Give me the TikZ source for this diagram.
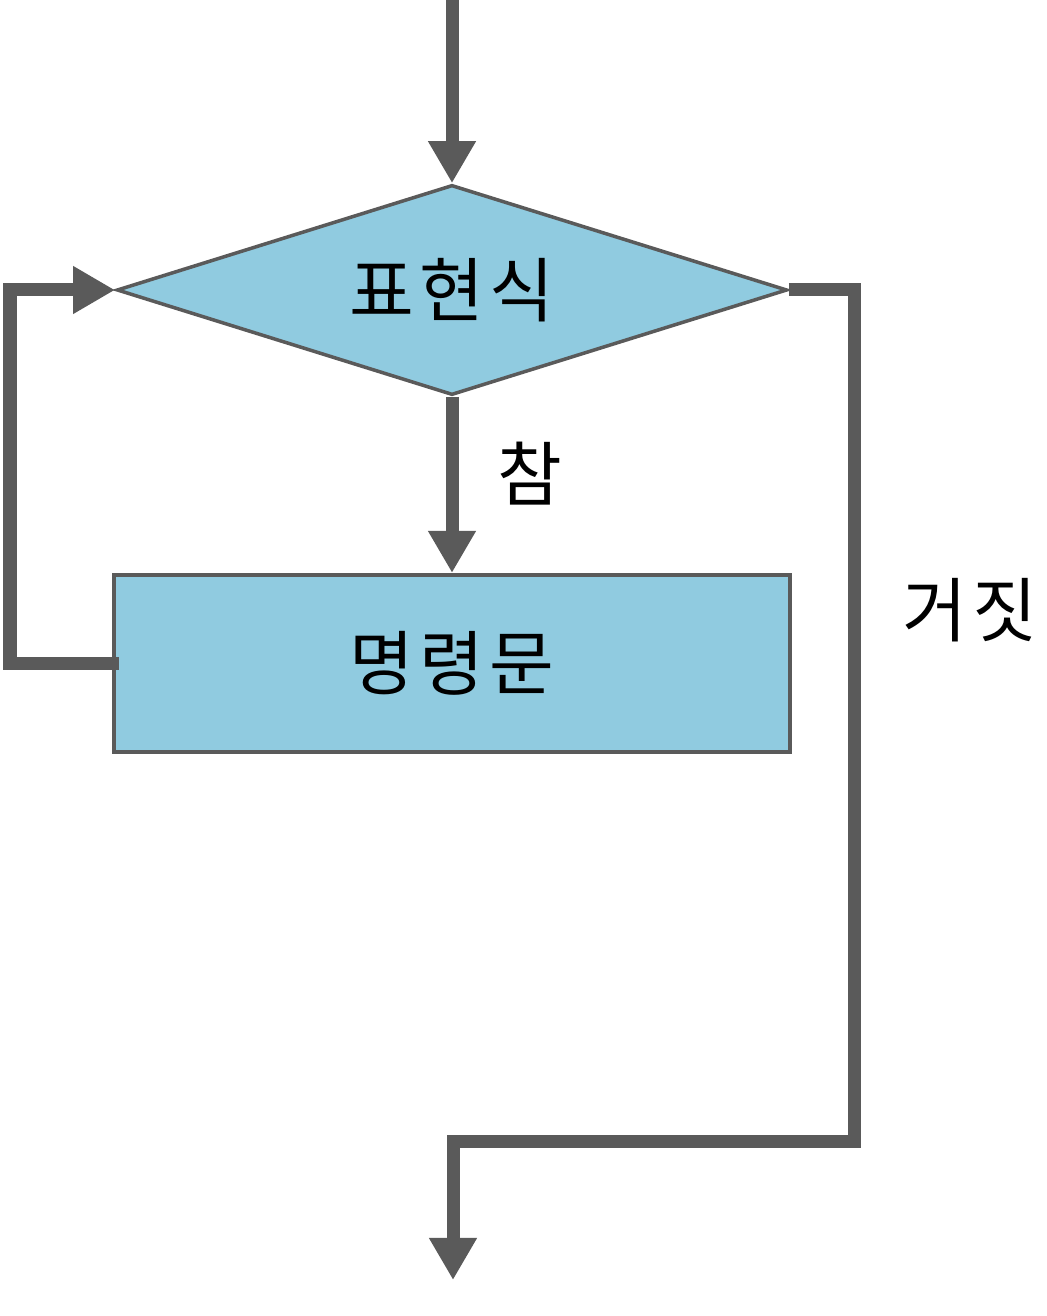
\documentclass[tikz,border=0pt]{standalone}
\usepackage{fontspec}
\newfontfamily\krfont[LetterSpace=8]{Noto Sans CJK KR}
\usetikzlibrary{arrows.meta, positioning, shapes.geometric}
\definecolor{boxblue}{HTML}{90CBE0}
\definecolor{linegray}{HTML}{5A5A5A}

\begin{document}
\begin{tikzpicture}[
  x=0.01cm, y=-0.01cm,
  cond/.style={diamond, aspect=3.19, draw=linegray, line width=1pt, fill=boxblue,
    minimum width=6.7cm, minimum height=2.1cm, inner sep=0pt, font=\krfont\fontsize{20}{24}\selectfont},
  stmt/.style={rectangle, draw=linegray, line width=1.2pt, fill=boxblue,
    minimum width=6.76cm, minimum height=1.77cm, font=\krfont\fontsize{20}{24}\selectfont},
  flow/.style={-{Triangle[length=0.42cm,width=0.45cm]}, line width=0.13cm, linegray},
  lbl/.style={font=\krfont\fontsize{20}{24}\selectfont}
]
\useasboundingbox (0,0) rectangle (1046,1316);

\coordinate (start) at (452,0);
\node[cond] (expr) at (452,290) {표현식};
\node[stmt, below=1.76cm of expr] (body) {명령문};

\coordinate (back) at (10,290);
\coordinate (turn) at (854,1141);
\coordinate (stop) at (453,1280);

\draw[flow] (start) -- (expr.north);
\draw[flow] (expr.south) -- (body.north);
\draw[flow] ([xshift=0.07cm]body.west) -| (back) -- (expr.west);
\draw[flow] (expr.east) -| (turn) -| (stop);

\node[lbl] (yes) at (530,474) {참};
\node[lbl] (no) at (970,610) {거짓};
\end{tikzpicture}
\end{document}
